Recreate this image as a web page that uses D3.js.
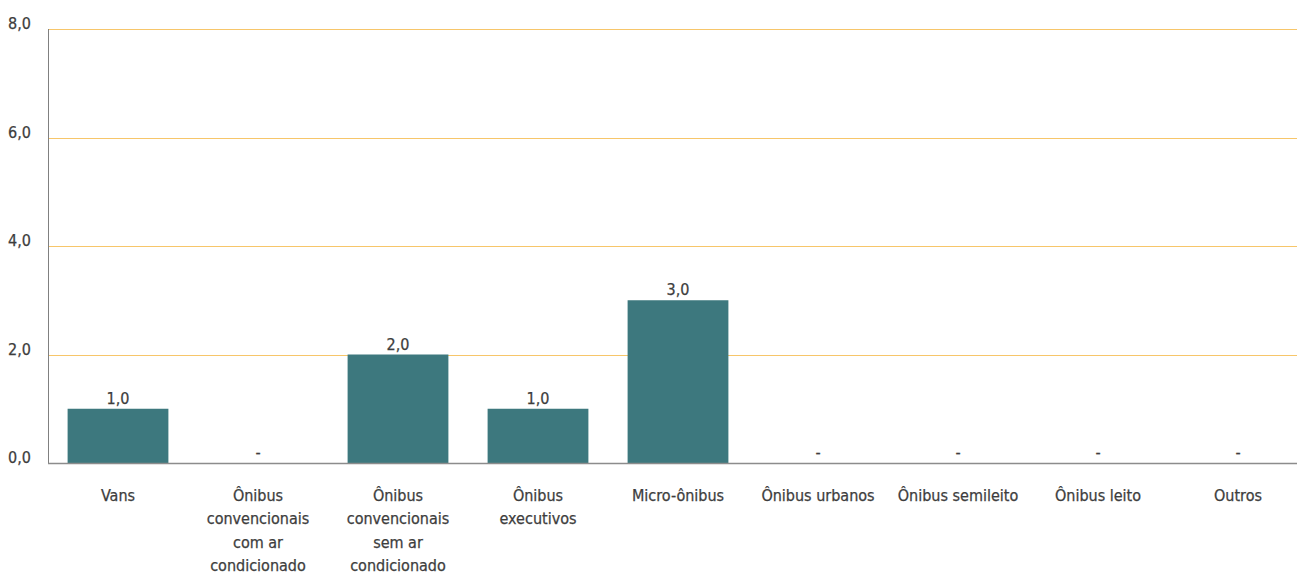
<!DOCTYPE html>
<html><head><meta charset="utf-8">
<script src="https://cdn.jsdelivr.net/npm/d3@7"></script>
<style>
html,body{margin:0;padding:0;background:#fff;}
svg{display:block;}
text{font-family:"DejaVu Sans Condensed","Liberation Sans Narrow","Roboto",sans-serif;fill:#3d3d3d;stroke:#3d3d3d;stroke-width:0.25px;}
</style></head>
<body>
<svg id="chart" width="1298" height="575"></svg>
<script>
const categories = [
  ["Vans"],
  ["Ônibus","convencionais","com ar","condicionado"],
  ["Ônibus","convencionais","sem ar","condicionado"],
  ["Ônibus","executivos"],
  ["Micro-ônibus"],
  ["Ônibus urbanos"],
  ["Ônibus semileito"],
  ["Ônibus leito"],
  ["Outros"]
];
const values = [1.0, 0, 2.0, 1.0, 3.0, 0, 0, 0, 0];
const yTicks = [0, 2, 4, 6, 8];

(function () {
const svg = d3.select("#chart");
const mLeft = 48, mRight = 1297, mTop = 29, mBottom = 463;
const fmt = v => v.toFixed(1).replace(".", ",");

const x = d3.scaleBand().domain(d3.range(categories.length))
  .range([mLeft, 1308]).paddingInner(0.28).paddingOuter(0.14);
const y = d3.scaleLinear().domain([0, 8]).range([mBottom, mTop]);
const yp = v => Math.round(y(v)) + 0.5;

// gridlines
svg.append("g").selectAll("line").data(yTicks.filter(t => t > 0)).join("line")
  .attr("x1", mLeft).attr("x2", mRight)
  .attr("y1", d => yp(d)).attr("y2", d => yp(d))
  .attr("stroke", "#f7c66a").attr("stroke-width", 1);

// y tick labels
svg.append("g").selectAll("text").data(yTicks).join("text")
  .attr("x", 31).attr("y", d => y(d))
  .attr("text-anchor", "end").attr("font-size", 16)
  .text(d => fmt(d));

// bars
svg.append("g").selectAll("rect").data(values).join("rect")
  .attr("x", (d, i) => x(i)).attr("width", x.bandwidth())
  .attr("y", d => y(d)).attr("height", d => y(0) - y(d))
  .attr("fill", "#3d787e");

// value labels
svg.append("g").selectAll("text").data(values).join("text")
  .attr("x", (d, i) => x(i) + x.bandwidth() / 2)
  .attr("y", d => d > 0 ? y(d) - 5 : y(0) - 5)
  .attr("text-anchor", "middle").attr("font-size", 16)
  .text(d => d > 0 ? fmt(d) : "-");

// axes lines
svg.append("line").attr("x1", mLeft + 0.5).attr("x2", mLeft + 0.5).attr("y1", mTop).attr("y2", mBottom)
  .attr("stroke", "#808080").attr("stroke-width", 1);
svg.append("line").attr("x1", mLeft).attr("x2", mRight).attr("y1", mBottom + 0.5).attr("y2", mBottom + 0.5)
  .attr("stroke", "#8c8c8c").attr("stroke-width", 1.5);

// x labels
const xl = svg.append("g").selectAll("text").data(categories).join("text")
  .attr("text-anchor", "middle").attr("font-size", 16)
  .attr("x", (d, i) => x(i) + x.bandwidth() / 2)
  .attr("y", 501);
xl.selectAll("tspan").data(d => d).join("tspan")
  .attr("x", function() { return this.parentNode.getAttribute("x"); })
  .attr("dy", (d, i) => i === 0 ? 0 : 23.4)
  .text(d => d);
})();
</script>
</body></html>
